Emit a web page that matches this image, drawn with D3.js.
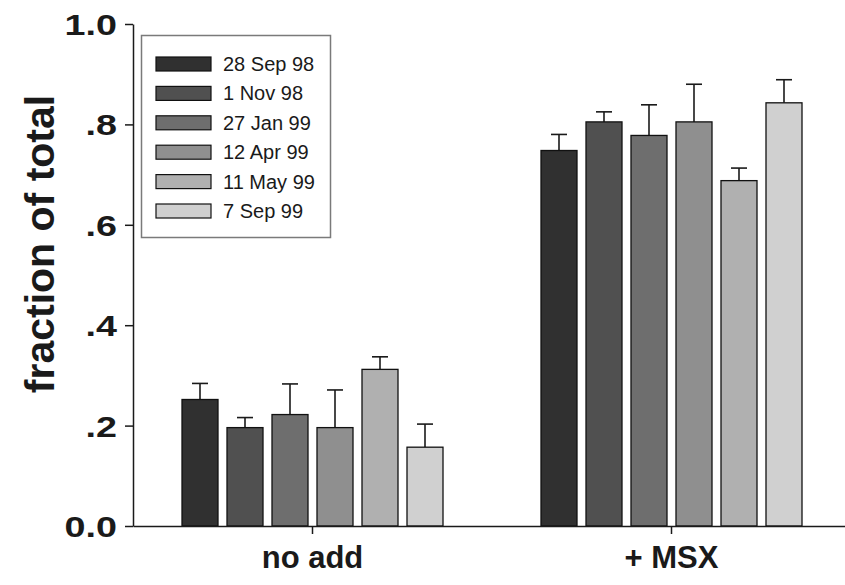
<!DOCTYPE html>
<html>
<head>
<meta charset="utf-8">
<script src="https://cdn.jsdelivr.net/npm/d3@7/dist/d3.min.js"></script>
<style>
  html, body { margin: 0; padding: 0; background: #fff; }
  svg { display: block; }
</style>
</head>
<body>
<svg id="chart" width="845" height="585"></svg>
<script>
// ---- data ----
const groups = ["no add", "+ MSX"];
const series = ["28 Sep 98", "1 Nov 98", "27 Jan 99", "12 Apr 99", "11 May 99", "7 Sep 99"];
const noAddValues = [0.252, 0.196, 0.222, 0.196, 0.312, 0.157];
const msxValues   = [0.748, 0.805, 0.778, 0.805, 0.688, 0.843];
const errorValues = [0.032, 0.020, 0.061, 0.075, 0.025, 0.046];
const yTickValues = [0, 0.2, 0.4, 0.6, 0.8, 1.0];
const yTickLabels = ["0.0", ".2", ".4", ".6", ".8", "1.0"];
const colors = ["#303030", "#505050", "#6e6e6e", "#8f8f8f", "#b0b0b0", "#d0d0d0"];

const valuesByGroup = { "no add": noAddValues, "+ MSX": msxValues };

const svg = d3.select("#chart");
const axisColor = "#1a1a1a";
const font = "'Liberation Sans', Arial, sans-serif";

const x0 = d3.scaleBand().domain(groups).range([133, 851]).paddingInner(0).paddingOuter(0);
const x1 = d3.scaleBand().domain(series).range([-130.5, 130.5]).paddingInner(0.2).paddingOuter(0);
const y = d3.scaleLinear().domain([0, 1]).range([526, 24]);

// bars
const g = svg.append("g");
groups.forEach(grp => {
  const cx = x0(grp) + x0.bandwidth() / 2;
  const vals = valuesByGroup[grp];
  series.forEach((s, i) => {
    const bx = cx + x1(s);
    const v = vals[i];
    const e = errorValues[i];
    const mid = bx + x1.bandwidth() / 2;
    g.append("line")
      .attr("x1", mid).attr("x2", mid)
      .attr("y1", y(v)).attr("y2", y(v + e))
      .attr("stroke", axisColor).attr("stroke-width", 1.6);
    g.append("line")
      .attr("x1", mid - 8).attr("x2", mid + 8)
      .attr("y1", y(v + e)).attr("y2", y(v + e))
      .attr("stroke", axisColor).attr("stroke-width", 1.6);
    g.append("rect")
      .attr("x", bx).attr("y", y(v))
      .attr("width", x1.bandwidth()).attr("height", y(0) - y(v))
      .attr("fill", colors[i])
      .attr("stroke", "#111").attr("stroke-width", 1.3);
  });
});

// y axis
const yAxis = d3.axisLeft(y)
  .tickValues(yTickValues)
  .tickFormat((d, i) => yTickLabels[i])
  .tickSize(8).tickSizeOuter(0).tickPadding(8);
const ya = svg.append("g").attr("transform", "translate(133,0)").call(yAxis);
ya.select(".domain").attr("stroke", axisColor).attr("stroke-width", 1.5);
ya.selectAll(".tick line").attr("stroke", axisColor).attr("stroke-width", 1.5);
ya.selectAll(".tick text")
  .attr("fill", "#1a1a1a")
  .style("font-family", font)
  .style("font-weight", "bold").style("font-size", "29px")
  .attr("dy", "0.36em")
  .each(function() {
    const w = this.getComputedTextLength();
    d3.select(this).attr("textLength", w * 1.3).attr("lengthAdjust", "spacingAndGlyphs");
  });

// x axis
const xAxis = d3.axisBottom(x0).tickSize(8).tickSizeOuter(0).tickPadding(12);
const xa = svg.append("g").attr("transform", "translate(0,526)").call(xAxis);
xa.select(".domain").attr("stroke", axisColor).attr("stroke-width", 1.5);
xa.selectAll(".tick line").attr("stroke", axisColor).attr("stroke-width", 1.5);
xa.selectAll(".tick text")
  .attr("fill", "#1a1a1a")
  .style("font-family", font)
  .style("font-weight", "bold").style("font-size", "31px");

// y axis title
svg.append("text")
  .attr("transform", "translate(54,244) rotate(-90)")
  .attr("text-anchor", "middle")
  .attr("fill", "#1a1a1a")
  .style("font-family", font)
  .style("font-weight", "bold").style("font-size", "41px")
  .text("fraction of total");

// legend
const leg = svg.append("g");
leg.append("rect")
  .attr("x", 141.5).attr("y", 35.5).attr("width", 189).attr("height", 202)
  .attr("fill", "#fff").attr("stroke", "#7a7a7a").attr("stroke-width", 1.5);
series.forEach((s, i) => {
  const cy = 64 + i * 29.4;
  leg.append("rect")
    .attr("x", 156).attr("y", cy - 7).attr("width", 55).attr("height", 14)
    .attr("fill", colors[i]).attr("stroke", "#111").attr("stroke-width", 1.2);
  leg.append("text")
    .attr("x", 223).attr("y", cy + 7)
    .attr("fill", "#1a1a1a")
    .style("font-family", font)
    .style("font-size", "20px")
    .text(s);
});
</script>
</body>
</html>
